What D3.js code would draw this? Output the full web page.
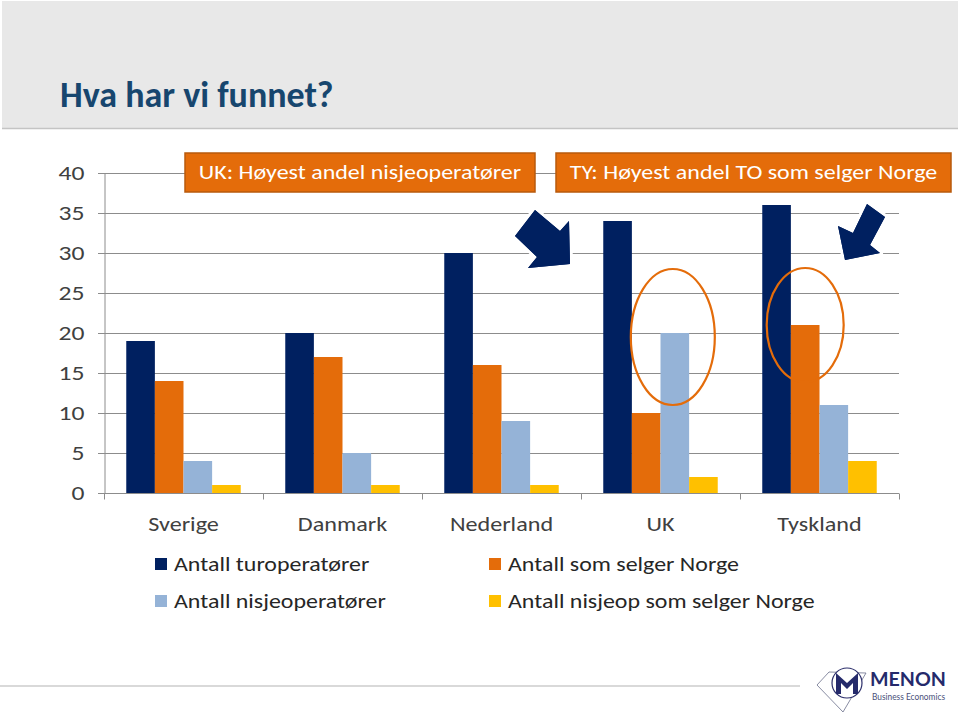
<!DOCTYPE html>
<html><head><meta charset="utf-8">
<script src="https://cdn.jsdelivr.net/npm/d3@7"></script>
<style>
html,body{margin:0;padding:0;background:#fff;}
svg{display:block;font-family:Carlito,Calibri,Lato,sans-serif;}
</style></head>
<body>
<svg id="chart" width="960" height="715"></svg>
<script>
const categories = ["Sverige","Danmark","Nederland","UK","Tyskland"];
const seriesNames = ["Antall turoperatører","Antall som selger Norge","Antall nisjeoperatører","Antall nisjeop som selger Norge"];
const turoperatorer = [19,20,30,34,36];
const selgerNorge = [14,17,16,10,21];
const nisjeoperatorer = [4,5,9,20,11];
const nisjeopSelgerNorge = [1,1,1,2,4];
const yTicks = [0,5,10,15,20,25,30,35,40];
const seriesColors = ["#002060","#E46C0A","#95B3D7","#FFC000"];
const title = "Hva har vi funnet?";
const callouts = ["UK: Høyest andel nisjeoperatører","TY: Høyest andel TO som selger Norge"];

(function(){
const seriesValues = [turoperatorer, selgerNorge, nisjeoperatorer, nisjeopSelgerNorge];
const table = categories.map((c,i)=>({cat:c, vals: seriesValues.map((s,j)=>({key:seriesNames[j], v:s[i], j}))}));

const svg = d3.select("#chart");
const textCol = "#404040";
const gridCol = "#8c8c8c";
// horizontal stretch to mimic the wider rendering of the reference
function stretch(sel, k){
  sel.each(function(){
    const w = this.getComputedTextLength();
    d3.select(this).attr("textLength", (w*k).toFixed(1)).attr("lengthAdjust","spacingAndGlyphs");
  });
}

// Header band
svg.append("rect").attr("x",2).attr("y",1).attr("width",956).attr("height",127).attr("fill","#e8e8e8");
svg.append("line").attr("x1",2).attr("x2",958).attr("y1",128.5).attr("y2",128.5).attr("stroke","#c4c4c4").attr("stroke-width",1.5);
svg.append("text").attr("x",60).attr("y",107).text(title)
  .attr("font-size",36).attr("font-weight","bold").attr("fill","#17466e");

// Scales
const pLeft=104, pRight=899, pTop=173, pBottom=493;
const x0 = d3.scaleBand().domain(categories).range([pLeft,pRight]).paddingInner(0.28).paddingOuter(0.14);
const x1 = d3.scaleBand().domain(seriesNames).range([0,x0.bandwidth()]);
const y = d3.scaleLinear().domain([0,40]).range([pBottom,pTop]);

// Gridlines
svg.append("g").selectAll("line").data(yTicks.filter(t=>t>0)).join("line")
  .attr("x1",pLeft-6).attr("x2",pRight).attr("y1",d=>Math.round(y(d))+0.5).attr("y2",d=>Math.round(y(d))+0.5)
  .attr("stroke",gridCol).attr("stroke-width",1);

// Y axis
const yAxis = d3.axisLeft(y).tickValues(yTicks).tickSize(6).tickPadding(14);
const gy = svg.append("g").attr("transform",`translate(${pLeft+0.5},0)`).call(yAxis);
gy.select(".domain").attr("stroke",gridCol);
gy.selectAll(".tick line").attr("stroke",gridCol);
gy.selectAll(".tick text").attr("font-size",21).attr("fill",textCol).attr("font-family","Carlito,Calibri,Lato,sans-serif");
stretch(gy.selectAll(".tick text"), 1.22);

// Bars
const groups = svg.append("g").selectAll("g").data(table).join("g")
  .attr("transform",d=>`translate(${x0(d.cat)},0)`);
groups.selectAll("rect").data(d=>d.vals).join("rect")
  .attr("x",d=>x1(d.key)).attr("width",x1.bandwidth())
  .attr("y",d=>y(d.v)).attr("height",d=>y(0)-y(d.v))
  .attr("fill",d=>seriesColors[d.j]);

// X axis
const gx = svg.append("g").attr("transform",`translate(0,${pBottom+0.5})`);
gx.append("line").attr("x1",pLeft-6).attr("x2",pRight).attr("stroke",gridCol);
gx.selectAll("line.tk").data(d3.range(categories.length+1)).join("line").attr("class","tk")
  .attr("x1",i=>pLeft+i*x0.step()+0.5).attr("x2",i=>pLeft+i*x0.step()+0.5).attr("y1",0).attr("y2",6).attr("stroke",gridCol);
const catText = gx.selectAll("text").data(categories).join("text")
  .attr("x",d=>x0(d)+x0.bandwidth()/2).attr("y",37).attr("text-anchor","middle")
  .attr("font-size",21).attr("fill",textCol).text(d=>d);
stretch(catText, 1.15);

// Ellipses
const ell = [{cat:"UK", s:2, v:20, rx:42, ry:68, dx:-2, dy:4},{cat:"Tyskland", s:1, v:21, rx:38.5, ry:57, dx:0, dy:0}];
svg.append("g").selectAll("ellipse").data(ell).join("ellipse")
  .attr("cx",d=>x0(d.cat)+x1(seriesNames[d.s])+x1.bandwidth()/2+d.dx)
  .attr("cy",d=>y(d.v)+d.dy).attr("rx",d=>d.rx).attr("ry",d=>d.ry)
  .attr("fill","none").attr("stroke","#E46C0A").attr("stroke-width",2.2);

// Arrows
const arrows = [
  [[515,236],[535,210],[560,231],[569,221],[570,264],[528,268],[537,257]],
  [[867,204],[885,217],[870,245],[880,253],[845,260],[838,226],[853,233]]
];
svg.append("g").selectAll("path").data(arrows).join("path")
  .attr("d",d=>"M"+d.join("L")+"Z").attr("fill","#002060")
  .attr("stroke","#fff").attr("stroke-width",6).attr("stroke-linejoin","round").style("paint-order","stroke");
svg.append("g").selectAll("path").data(arrows).join("path")
  .attr("d",d=>"M"+d.join("L")+"Z").attr("fill","#002060");

// Callout boxes
const boxes = [{x:185,w:350,t:callouts[0]},{x:556,w:395,t:callouts[1]}];
const bg = svg.append("g").selectAll("g").data(boxes).join("g");
bg.append("rect").attr("x",d=>d.x).attr("y",153).attr("width",d=>d.w).attr("height",39)
  .attr("fill","#E46C0A").attr("stroke","#b85a0c").attr("stroke-width",1.5);
const cText = bg.append("text").attr("x",d=>d.x+d.w/2).attr("y",179).attr("text-anchor","middle")
  .attr("font-size",20).attr("fill","#fff").text(d=>d.t);
stretch(cText, 1.2);

// Legend
const legPos = [[155,564],[489,564],[155,601],[489,601]];
const lg = svg.append("g").selectAll("g").data(seriesNames).join("g")
  .attr("transform",(d,i)=>`translate(${legPos[i][0]},${legPos[i][1]})`);
lg.append("rect").attr("x",0).attr("y",-6).attr("width",12).attr("height",12).attr("fill",(d,i)=>seriesColors[i]);
const lText = lg.append("text").attr("x",19).attr("y",7).attr("font-size",21).attr("fill","#262626").text(d=>d);
stretch(lText, 1.14);

// Footer line
svg.append("line").attr("x1",0).attr("x2",800).attr("y1",686).attr("y2",686).attr("stroke","#d9d9d9").attr("stroke-width",2);

// Logo
const logo = svg.append("g");
logo.append("path").attr("d","M817,685L829,672L866,673L843,712Z").attr("fill","none").attr("stroke","#6a6f8a").attr("stroke-width",0.8);
logo.append("circle").attr("cx",847).attr("cy",683).attr("r",15).attr("fill","#fff").attr("stroke","#2c2f6b").attr("stroke-width",1.2);
logo.append("path").attr("d","M836,694L836,673L847,683L858,673L858,694L853,694L853,683L847,689L841,683L841,694Z").attr("fill","#252a6b");
logo.append("text").attr("x",870).attr("y",686).attr("font-size",18).attr("font-weight","bold").attr("fill","#252a6b")
  .attr("font-family","Lato,sans-serif").attr("textLength",76).attr("lengthAdjust","spacingAndGlyphs").text("MENON");
logo.append("text").attr("x",872).attr("y",700).attr("font-size",8.5).attr("fill","#4a4f7a")
  .attr("font-family","Lato,sans-serif").attr("textLength",73).attr("lengthAdjust","spacingAndGlyphs").text("Business Economics");
})();
</script>
</body></html>
